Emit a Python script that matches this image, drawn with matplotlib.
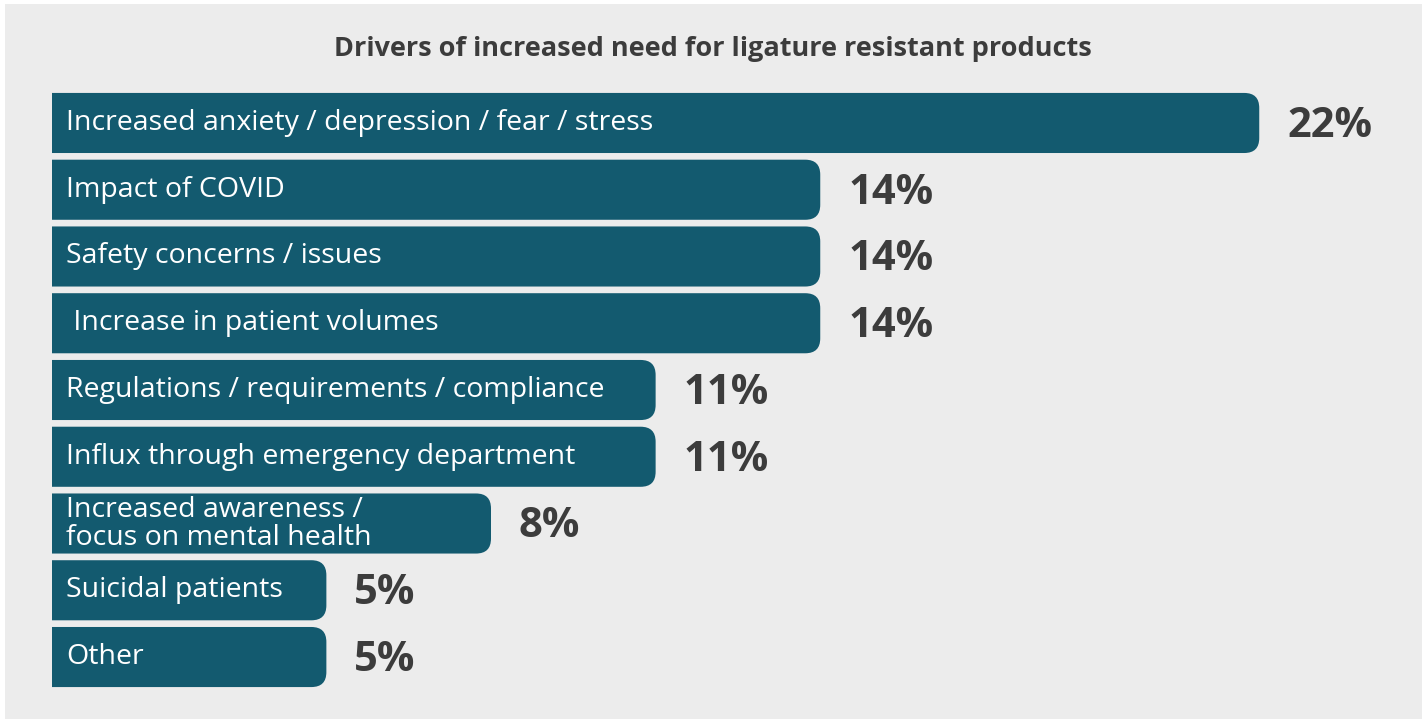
import numpy as np
import matplotlib
matplotlib.use('Agg')
import matplotlib.pyplot as plt
from matplotlib.patches import FancyBboxPatch, Rectangle

categories = [
    'Increased anxiety / depression / fear / stress',
    'Impact of COVID',
    'Safety concerns / issues',
    ' Increase in patient volumes',
    'Regulations / requirements / compliance',
    'Influx through emergency department',
    'Increased awareness /\nfocus on mental health',
    'Suicidal patients',
    'Other',
]
values = [22, 14, 14, 14, 11, 11, 8, 5, 5]
value_labels = ['22%', '14%', '14%', '14%', '11%', '11%', '8%', '5%', '5%']
title = 'Drivers of increased need for ligature resistant products'

bar_color = '#135a6f'
text_dark = '#3c3c3c'
panel_color = '#ececec'

plt.rcParams['font.family'] = ['Open Sans', 'DejaVu Sans']

W, H = 1428, 723
fig = plt.figure(figsize=(W / 100, H / 100), dpi=100)
fig.patch.set_facecolor('white')

# gray panel behind everything
fig.patches.append(Rectangle((5 / W, 1 - 719 / H), (1422 - 5) / W, (719 - 4) / H,
                             transform=fig.transFigure, facecolor=panel_color,
                             edgecolor='none', zorder=-5))

ax_left, ax_right = 52, 1422
ax_top, ax_bot = 89.6, 690.4
ax = fig.add_axes([ax_left / W, 1 - ax_bot / H, (ax_right - ax_left) / W, (ax_bot - ax_top) / H])
ax.set_zorder(2)
ax.set_facecolor('none')
px_per_pct = 54.875
ax.set_xlim(0, (ax_right - ax_left) / px_per_pct)
ax.set_ylim(len(values) - 0.5, -0.5)
ax.axis('off')

bar_h = 0.9
y = np.arange(len(values))
px_per_y = (ax_bot - ax_top) / len(values)
rx = 15 / px_per_pct
ry = 15 / px_per_y

for i, (v, lab, vl) in enumerate(zip(values, categories, value_labels)):
    # start left of zero so only the right end shows rounded corners
    box = FancyBboxPatch((-1, y[i] - bar_h / 2), v + 1, bar_h,
                         boxstyle=f'round,pad=0,rounding_size={rx}',
                         mutation_aspect=ry / rx,
                         facecolor=bar_color, edgecolor='none', clip_on=True)
    ax.add_patch(box)
    ax.text(14 / px_per_pct, y[i], lab, color='white', fontsize=20.5,
            va='center', ha='left', linespacing=1.0)
    ax.text(v + 28 / px_per_pct, y[i] + 0.05, vl, color=text_dark, fontsize=30,
            fontweight='bold', va='center', ha='left')

fig.text(713 / W, 1 - 49 / H, title, color=text_dark, fontsize=19.5,
         fontweight='bold', ha='center', va='center')

fig.savefig('out.png', dpi=100, facecolor=fig.get_facecolor())
